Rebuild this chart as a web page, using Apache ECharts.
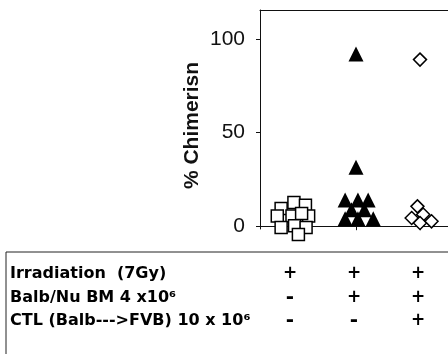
<!DOCTYPE html>
<html>
<head>
<meta charset="utf-8">
<script src="https://cdn.jsdelivr.net/npm/echarts@6/dist/echarts.min.js"></script>
<style>
html, body { margin: 0; padding: 0; background: #fff; }
#chart { width: 448px; height: 354px; }
</style>
</head>
<body>
<div id="chart"></div>
<script>
// group positions on the x axis (1 = irradiation only, 2 = + BM, 3 = + BM + CTL)
var groupPos = [1, 2, 3];
var yTicks = [0, 50, 100];

// open squares: irradiation only
var squareX = [1.03, 1.21, 0.83, 0.77, 1.00, 1.26, 1.15, 0.83, 1.04, 1.22, 1.10];
var squareY = [12.7, 11.2, 9.5, 5.5, 5.5, 5.5, 6.8, -0.7, 0.2, -0.7, -4.4];

// filled triangles: irradiation + Balb/Nu BM
var triangleX = [1.83, 2.03, 2.19, 1.93, 2.13, 1.83, 2.03, 2.27, 2.0, 2.0];
var triangleY = [14, 14, 14, 8.8, 8.8, 4, 4, 4, 31.5, 92];

// open diamonds: irradiation + BM + CTL
var diamondX = [2.96, 3.05, 2.87, 3.0, 3.18, 3.0];
var diamondY = [10.6, 6.2, 4.4, 1.7, 2.6, 89];

// treatment table under the chart
var rowLabels = ['Irradiation  (7Gy)', 'Balb/Nu BM 4 x10\u2076', 'CTL (Balb--->FVB) 10 x 10\u2076'];
var rowSigns = [
	['+', '+', '+'],
	['-', '+', '+'],
	['-', '-', '+']
];

var zip = function(xs, ys) {
	return xs.map(function(x, i) { return [x, ys[i]]; });
};

var tableFont = 'bold 16px "DejaVu Sans"';

var option = {
	animation: false,
	backgroundColor: '#fff',
	grid: {
		left: 260,
		right: -4,
		top: 10,
		bottom: 125,
		outerBoundsMode: 'none'
	},
	xAxis: [{
		type: 'value',
		min: 0.5,
		max: 3.5,
		axisLine: { show: true, onZero: true, lineStyle: { color: '#111', width: 1 } },
		axisTick: { show: true, length: 4, customValues: groupPos, lineStyle: { color: '#111' } },
		axisLabel: { show: false },
		splitLine: { show: false }
	}, {
		type: 'value',
		position: 'top',
		min: 0.5,
		max: 3.5,
		axisLine: { show: true, onZero: false, lineStyle: { color: '#111', width: 1 } },
		axisTick: { show: false },
		axisLabel: { show: false },
		splitLine: { show: false }
	}],
	yAxis: {
		type: 'value',
		min: -1.5,
		max: 115.5,
		name: '% Chimerisn',
		nameLocation: 'middle',
		nameRotate: 90,
		nameGap: 57,
		nameTextStyle: {
			fontFamily: '"Liberation Sans", Arial',
			fontWeight: 'bold',
			fontSize: 21,
			color: '#111',
			padding: [0, 12, 0, 0]
		},
		axisLine: { show: true, lineStyle: { color: '#111', width: 1 } },
		axisTick: { show: true, length: 4, customValues: yTicks, lineStyle: { color: '#111' } },
		axisLabel: {
			customValues: yTicks,
			margin: 15,
			fontFamily: '"Liberation Sans", Arial',
			fontSize: 21,
			color: '#111'
		},
		splitLine: { show: false }
	},
	series: [{
		name: 'Irradiation',
		type: 'scatter',
		clip: false,
		symbol: 'rect',
		symbolSize: 12,
		itemStyle: { color: '#fff', borderColor: '#000', borderWidth: 1.5, opacity: 1 },
		data: zip(squareX, squareY)
	}, {
		name: 'Irradiation + BM',
		type: 'scatter',
		clip: false,
		symbol: 'triangle',
		symbolSize: 15,
		itemStyle: { color: '#000', opacity: 1 },
		data: zip(triangleX, triangleY)
	}, {
		name: 'Irradiation + BM + CTL',
		type: 'scatter',
		clip: false,
		symbol: 'diamond',
		symbolSize: 13,
		itemStyle: { color: '#fff', borderColor: '#000', borderWidth: 1.5, opacity: 1 },
		data: zip(diamondX, diamondY)
	}]
};

var chart = echarts.init(document.getElementById('chart'));
chart.setOption(option);

// table: box, row labels and +/- signs lined up under each group
var rowY = [274, 298, 321];
var graphics = [{
	type: 'rect',
	shape: { x: 6, y: 252, width: 500, height: 200 },
	style: { fill: 'none', stroke: '#222', lineWidth: 1 }
}];
rowLabels.forEach(function(label, r) {
	graphics.push({
		type: 'text',
		x: 10,
		y: rowY[r],
		style: { text: label, font: tableFont, fill: '#000', align: 'left', verticalAlign: 'middle' }
	});
	rowSigns[r].forEach(function(sign, c) {
		var px = chart.convertToPixel({ xAxisIndex: 0 }, groupPos[c]);
		graphics.push({
			type: 'text',
			x: px - 2,
			y: rowY[r],
			style: { text: sign, font: sign === '-' ? 'bold 20px "DejaVu Sans"' : 'bold 17px "DejaVu Sans"', fill: '#000', align: 'center', verticalAlign: 'middle' }
		});
	});
});
chart.setOption({ graphic: graphics });
</script>
</body>
</html>
